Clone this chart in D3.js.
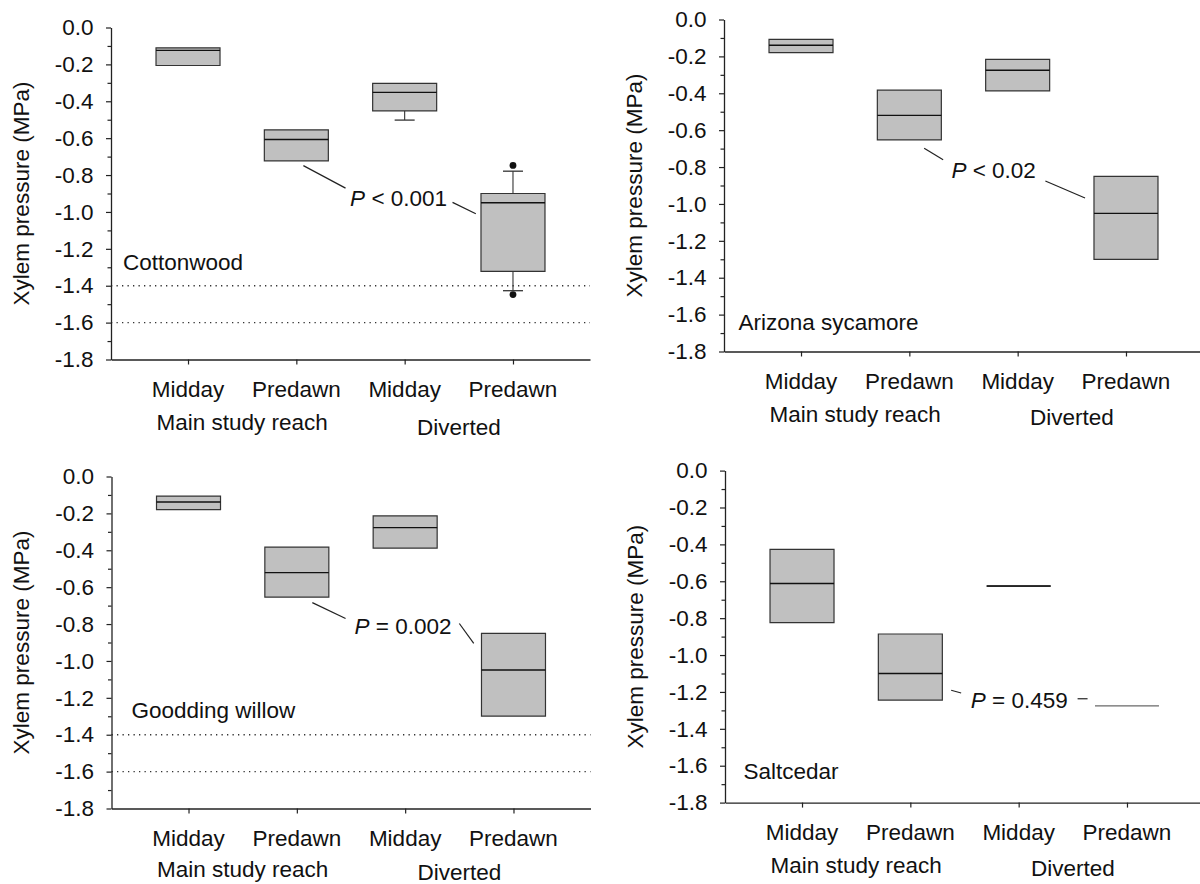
<!DOCTYPE html>
<html>
<head>
<meta charset="utf-8">
<script src="https://cdn.jsdelivr.net/npm/d3@7"></script>
<style>
  body { margin: 0; background: #fff; }
  svg text { font-family: "Liberation Sans", Arial, sans-serif; fill: #111; }
</style>
</head>
<body>
<svg id="chart" width="1200" height="884"></svg>
<script>
// categories
const timeKeys = ["mainMidday", "mainPredawn", "divMidday", "divPredawn"];
const timeLabels = ["Midday", "Predawn", "Midday", "Predawn"];
const reachLabels = ["Main study reach", "Diverted"];
const yMajorTicks = [0, -0.2, -0.4, -0.6, -0.8, -1.0, -1.2, -1.4, -1.6, -1.8];
const yMinorTicks = [-0.1, -0.3, -0.5, -0.7, -0.9, -1.1, -1.3, -1.5, -1.7];
const speciesNames = ["Cottonwood", "Arizona sycamore", "Goodding willow", "Saltcedar"];
const pTests = [
  { op: "<", value: "0.001" },
  { op: "<", value: "0.02" },
  { op: "=", value: "0.002" },
  { op: "=", value: "0.459" }
];
const thresholdLines = [-1.4, -1.6];

// box values (MPa)
const cottonwood = [
  { top: -0.11, median: -0.124, bottom: -0.206 },
  { top: -0.555, median: -0.607, bottom: -0.723 },
  { top: -0.303, median: -0.352, bottom: -0.452, whiskerLo: -0.502 },
  { top: -0.90, median: -0.95, bottom: -1.322, whiskerHi: -0.779, whiskerLo: -1.427, outliers: [-0.748, -1.448] }
];
const sycamore = [
  { top: -0.108, median: -0.14, bottom: -0.18 },
  { top: -0.383, median: -0.52, bottom: -0.653 },
  { top: -0.216, median: -0.275, bottom: -0.387 },
  { top: -0.851, median: -1.051, bottom: -1.30 }
];
const willow = [
  { top: -0.106, median: -0.138, bottom: -0.18 },
  { top: -0.383, median: -0.521, bottom: -0.654 },
  { top: -0.214, median: -0.277, bottom: -0.388 },
  { top: -0.85, median: -1.049, bottom: -1.299 }
];
const saltcedar = [
  { top: -0.427, median: -0.612, bottom: -0.824 },
  { top: -0.886, median: -1.10, bottom: -1.244 },
  { top: -0.626, median: -0.626, bottom: -0.626 },
  { top: -1.276, median: null, bottom: -1.276 }
];

const panelData = [cottonwood, sycamore, willow, saltcedar];

// layout of each panel (pixels, and annotation anchors in category-index / value units)
const panelLayout = [
  { left: 111, top: 27.5, labelDx: 12, labelY: -1.314, thresholds: true, groupDy: [70.5, 75.5],
    pX: 1.944, pY: -0.970, links: [[1.065, -0.749, 1.454, -0.871], [2.442, -0.948, 2.657, -1.010]] },
  { left: 724, top: 19.5, labelDx: 14.5, labelY: -1.681, thresholds: false, groupDy: [70.5, 73],
    pX: 1.778, pY: -0.860, links: [[1.137, -0.698, 1.312, -0.761], [2.256, -0.876, 2.622, -0.968]] },
  { left: 111.5, top: 476.5, labelDx: 20, labelY: -1.308, thresholds: true, groupDy: [68, 71],
    pX: 1.98, pY: -0.856, links: [[1.143, -0.684, 1.45, -0.770], [2.50, -0.797, 2.633, -0.905]] },
  { left: 725, top: 470.6, labelDx: 18.5, labelY: -1.673, thresholds: false, groupDy: [70.5, 73],
    pX: 2.006, pY: -1.286, links: [[1.377, -1.191, 1.469, -1.206], [2.544, -1.237, 2.636, -1.237]] }
];

const plotWidth = 479;
const plotHeight = 332;
const boxWidth = 64;
const fontSize = 22.5;

const svg = d3.select("#chart");

panelLayout.forEach((layout, i) => {
  const boxes = panelData[i];
  const g = svg.append("g");

  const y = d3.scaleLinear().domain([0, -1.8]).range([layout.top, layout.top + plotHeight]);
  const x = d3.scalePoint().domain(timeKeys).range([layout.left, layout.left + plotWidth]).padding(0.711);
  const xi = d3.scaleLinear().domain([0, 3]).range([x(timeKeys[0]), x(timeKeys[3])]);
  const bottomY = y(-1.8);

  // threshold lines
  if (layout.thresholds) {
    g.selectAll(".thr")
      .data(thresholdLines)
      .join("line")
      .attr("x1", layout.left)
      .attr("x2", layout.left + plotWidth)
      .attr("y1", d => y(d))
      .attr("y2", d => y(d))
      .attr("stroke", "#333")
      .attr("stroke-width", 1.4)
      .attr("stroke-dasharray", "1.3,4.2");
  }

  // y axis
  const yAxis = g.append("g")
    .attr("transform", `translate(${layout.left},0)`)
    .call(d3.axisLeft(y).tickValues(yMajorTicks).tickSize(5).tickSizeOuter(0).tickPadding(12.5)
      .tickFormat(d => d.toFixed(1)));
  yAxis.selectAll("text").style("font-size", fontSize + "px").attr("fill", "#111");
  yAxis.select(".domain").attr("stroke", "#222").attr("stroke-width", 1.3);
  yAxis.selectAll(".tick line").attr("stroke", "#222").attr("stroke-width", 1.2);

  const yMinor = g.append("g")
    .attr("transform", `translate(${layout.left},0)`)
    .call(d3.axisLeft(y).tickValues(yMinorTicks).tickSize(3.5).tickFormat(""));
  yMinor.select(".domain").remove();
  yMinor.selectAll(".tick line").attr("stroke", "#222").attr("stroke-width", 1.2);

  // x axis
  const xAxis = g.append("g")
    .attr("transform", `translate(0,${bottomY})`)
    .call(d3.axisBottom(x).tickSize(5).tickSizeOuter(0).tickFormat(""));
  xAxis.select(".domain").attr("stroke", "#222").attr("stroke-width", 1.3);
  xAxis.selectAll(".tick line").attr("stroke", "#222").attr("stroke-width", 1.2);

  g.selectAll(".time-label")
    .data(timeKeys)
    .join("text")
    .attr("x", d => x(d))
    .attr("y", bottomY + 37.5)
    .attr("text-anchor", "middle")
    .style("font-size", fontSize + "px")
    .text((d, j) => timeLabels[j]);

  g.selectAll(".reach-label")
    .data(reachLabels)
    .join("text")
    .attr("x", (d, j) => (x(timeKeys[j * 2]) + x(timeKeys[j * 2 + 1])) / 2)
    .attr("y", (d, j) => bottomY + layout.groupDy[j])
    .attr("text-anchor", "middle")
    .style("font-size", fontSize + "px")
    .text(d => d);

  // y axis title
  g.append("text")
    .attr("transform", `translate(${layout.left - 82.5},${(y(0) + y(-1.8)) / 2}) rotate(-90)`)
    .attr("text-anchor", "middle")
    .style("font-size", fontSize + "px")
    .text("Xylem pressure (MPa)");

  // species name
  g.append("text")
    .attr("x", layout.left + layout.labelDx)
    .attr("y", y(layout.labelY))
    .style("font-size", fontSize + "px")
    .text(speciesNames[i]);

  // whiskers
  boxes.forEach((b, j) => {
    const cx = x(timeKeys[j]);
    [["whiskerHi", "top"], ["whiskerLo", "bottom"]].forEach(([w, edge]) => {
      if (b[w] === undefined) return;
      g.append("line")
        .attr("x1", cx).attr("x2", cx)
        .attr("y1", y(b[edge])).attr("y2", y(b[w]))
        .attr("stroke", "#333").attr("stroke-width", 1.1);
      g.append("line")
        .attr("x1", cx - 10).attr("x2", cx + 10)
        .attr("y1", y(b[w])).attr("y2", y(b[w]))
        .attr("stroke", "#333").attr("stroke-width", 1.3);
    });
  });

  // boxes: fill, then outline as a path so a zero-height box still shows as a line
  g.selectAll(".box-fill")
    .data(boxes)
    .join("rect")
    .attr("x", (d, j) => x(timeKeys[j]) - boxWidth / 2)
    .attr("y", d => y(d.top))
    .attr("width", boxWidth)
    .attr("height", d => y(d.bottom) - y(d.top))
    .attr("fill", "#c0c0c0");

  g.selectAll(".box-edge")
    .data(boxes)
    .join("path")
    .attr("d", (d, j) => {
      const x0 = x(timeKeys[j]) - boxWidth / 2;
      const y0 = y(d.top), y1 = y(d.bottom);
      return `M${x0},${y0}H${x0 + boxWidth}V${y1}H${x0}Z`;
    })
    .attr("fill", "none")
    .attr("stroke", d => d.median === null ? "#6a6a6a" : "#333")
    .attr("stroke-width", 1.2);

  g.selectAll(".median")
    .data(boxes.filter(d => d.median !== null))
    .join("line")
    .attr("x1", d => x(timeKeys[boxes.indexOf(d)]) - boxWidth / 2)
    .attr("x2", d => x(timeKeys[boxes.indexOf(d)]) + boxWidth / 2)
    .attr("y1", d => y(d.median))
    .attr("y2", d => y(d.median))
    .attr("stroke", "#111")
    .attr("stroke-width", 1.4);

  // outliers
  boxes.forEach((b, j) => {
    (b.outliers || []).forEach(o => {
      g.append("circle")
        .attr("cx", x(timeKeys[j]))
        .attr("cy", y(o))
        .attr("r", 3.4)
        .attr("fill", "#111");
    });
  });

  // P value annotation
  const pText = g.append("text")
    .attr("x", xi(layout.pX))
    .attr("y", y(layout.pY))
    .attr("text-anchor", "middle")
    .style("font-size", fontSize + "px");
  pText.append("tspan").style("font-style", "italic").text("P");
  pText.append("tspan").text(` ${pTests[i].op} ${pTests[i].value}`);

  g.selectAll(".link")
    .data(layout.links)
    .join("line")
    .attr("x1", d => xi(d[0]))
    .attr("y1", d => y(d[1]))
    .attr("x2", d => xi(d[2]))
    .attr("y2", d => y(d[3]))
    .attr("stroke", "#222")
    .attr("stroke-width", 1.2);
});
</script>
</body>
</html>
